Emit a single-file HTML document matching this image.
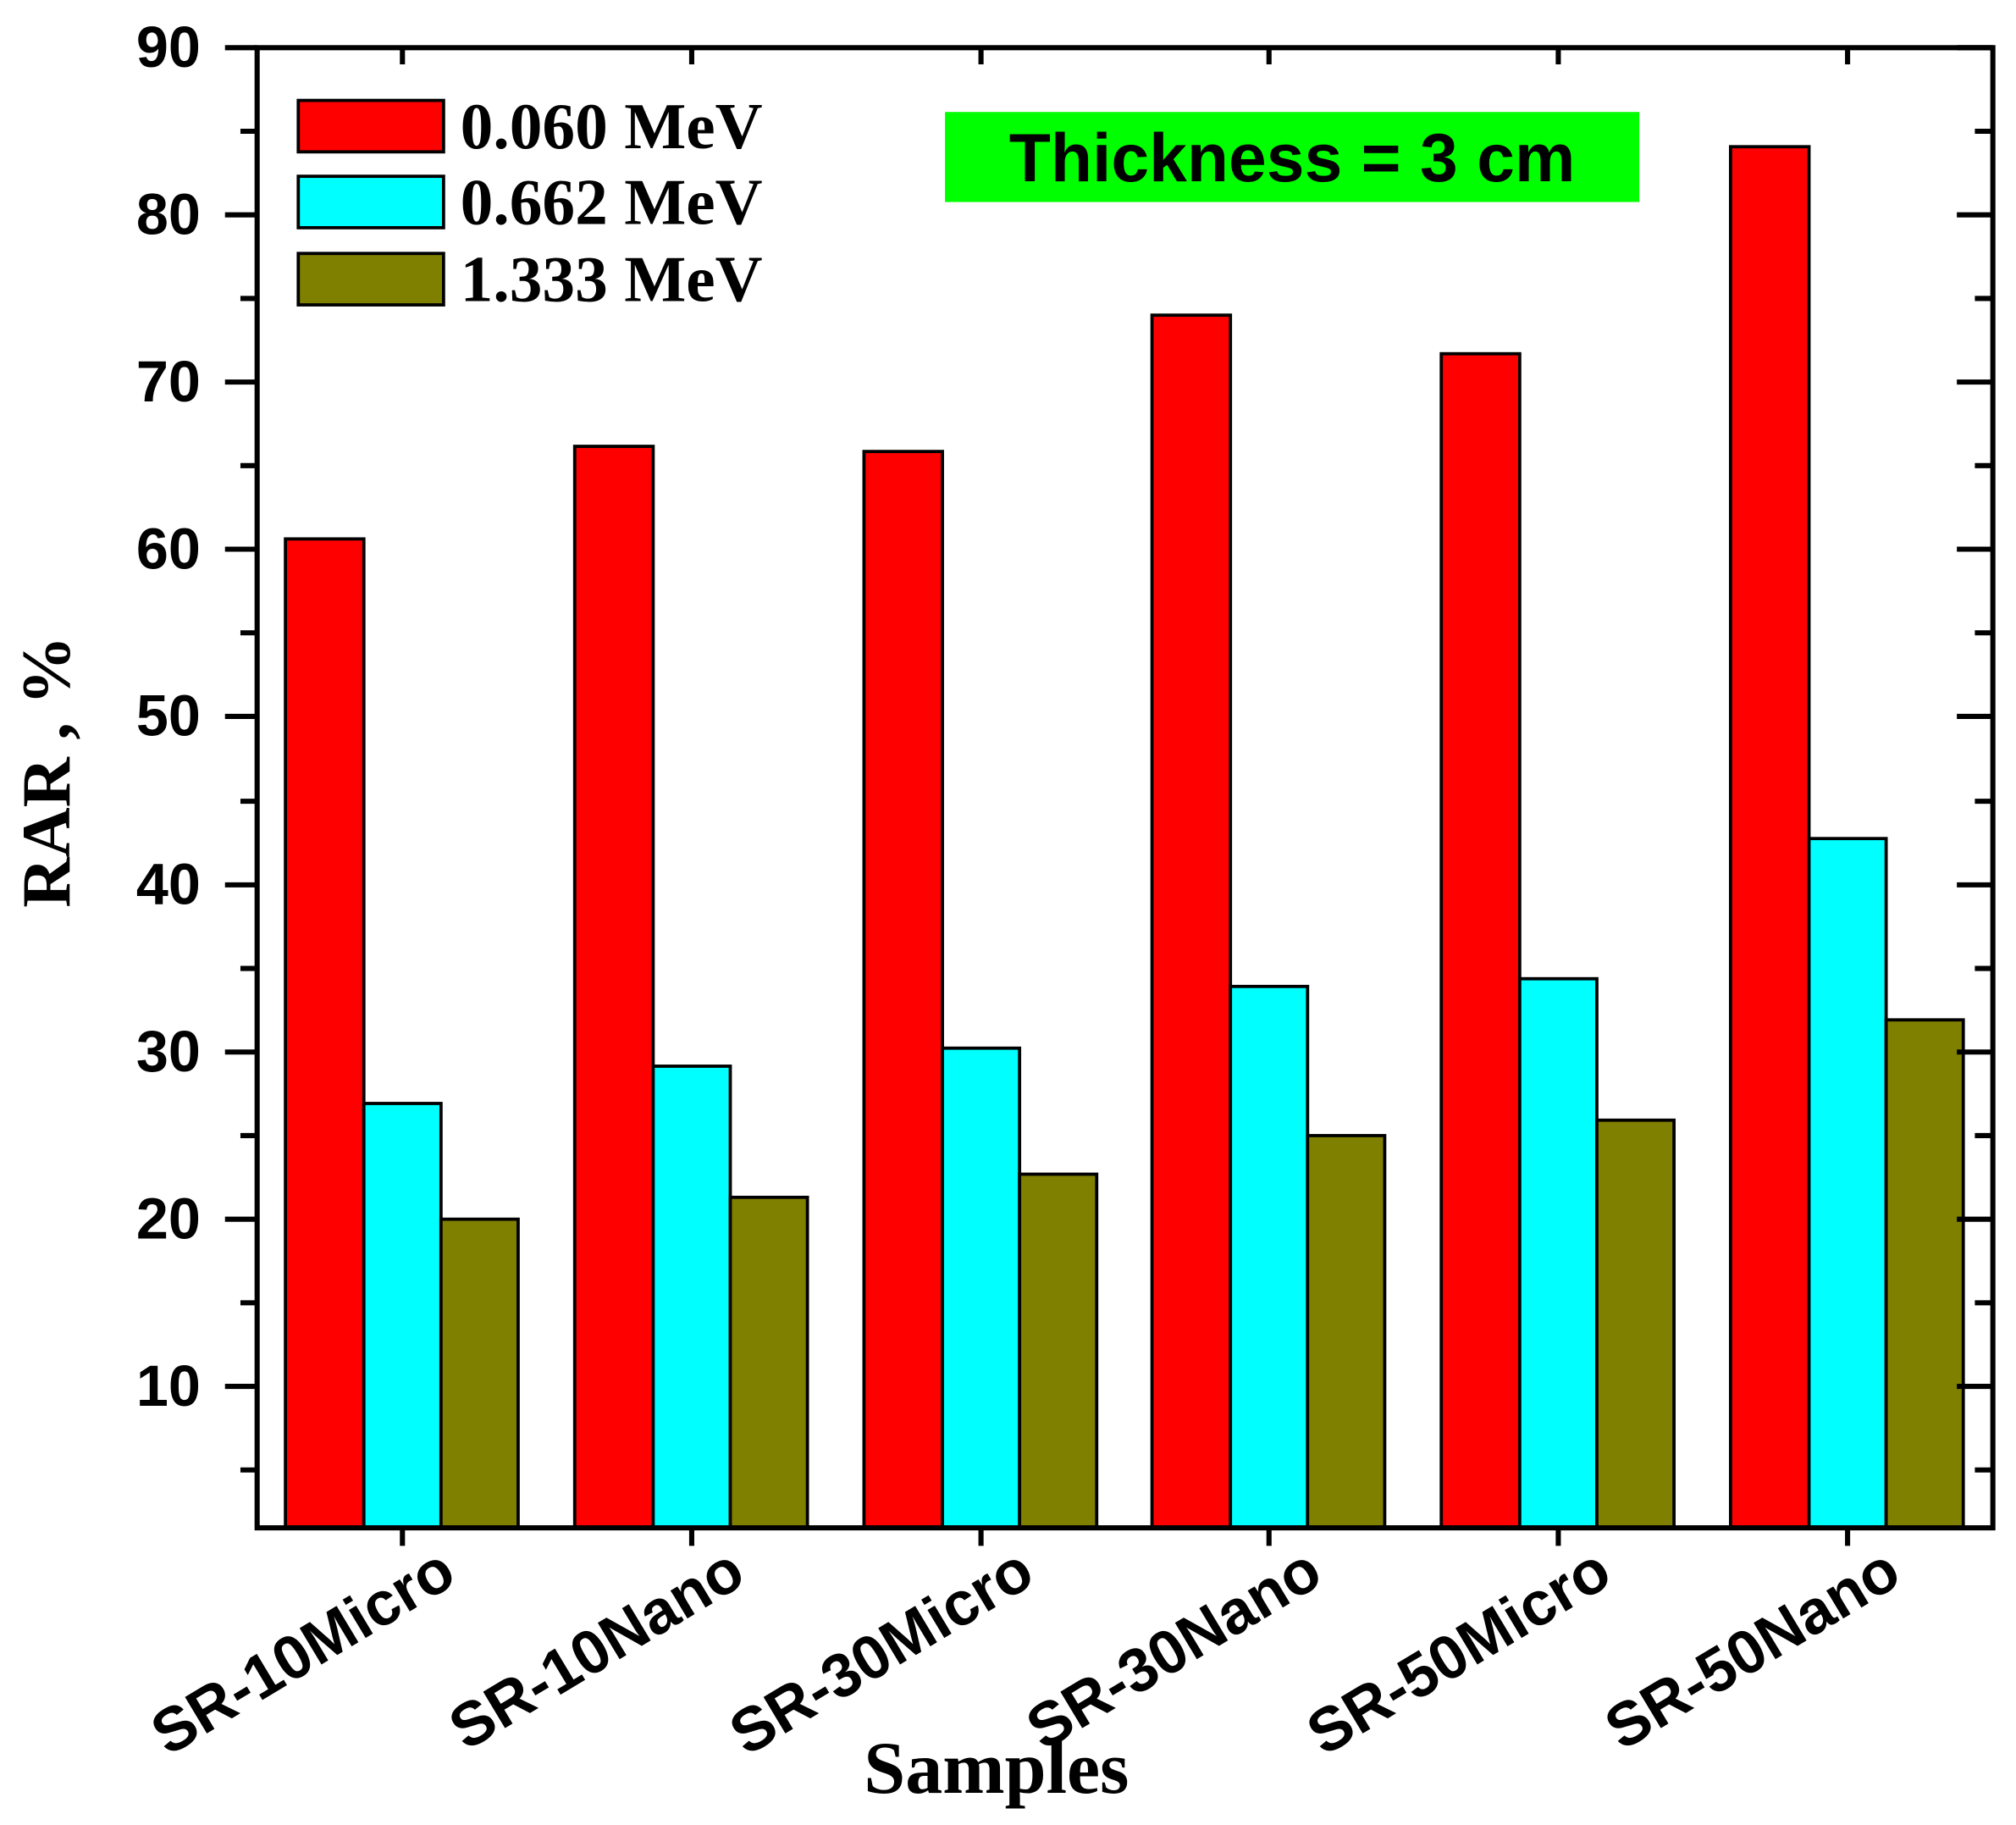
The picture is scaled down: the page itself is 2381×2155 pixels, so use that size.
<!DOCTYPE html>
<html><head><meta charset="utf-8"><style>html,body{margin:0;padding:0;background:#fff}svg{display:block}</style></head>
<body>
<svg width="2381" height="2155" viewBox="0 0 1568 1419" xmlns="http://www.w3.org/2000/svg">
<rect width="1568" height="1419" fill="#fff"/>
<g stroke="#000" stroke-width="2.5">
<rect x="222" y="419" width="61" height="769" fill="#ff0000"/>
<rect x="447" y="347" width="61" height="841" fill="#ff0000"/>
<rect x="672" y="351" width="61" height="837" fill="#ff0000"/>
<rect x="896" y="245" width="61" height="943" fill="#ff0000"/>
<rect x="1121" y="275" width="61" height="913" fill="#ff0000"/>
<rect x="1346" y="114" width="61" height="1074" fill="#ff0000"/>
<rect x="283" y="858" width="60" height="330" fill="#00ffff"/>
<rect x="508" y="829" width="60" height="359" fill="#00ffff"/>
<rect x="733" y="815" width="60" height="373" fill="#00ffff"/>
<rect x="957" y="767" width="60" height="421" fill="#00ffff"/>
<rect x="1182" y="761" width="60" height="427" fill="#00ffff"/>
<rect x="1407" y="652" width="60" height="536" fill="#00ffff"/>
<rect x="343" y="948" width="60" height="240" fill="#808000"/>
<rect x="568" y="931" width="60" height="257" fill="#808000"/>
<rect x="793" y="913" width="60" height="275" fill="#808000"/>
<rect x="1017" y="883" width="60" height="305" fill="#808000"/>
<rect x="1242" y="871" width="60" height="317" fill="#808000"/>
<rect x="1467" y="793" width="60" height="395" fill="#808000"/>
</g>
<rect x="200" y="37" width="1350" height="1151" fill="none" stroke="#000" stroke-width="4"/>
<g stroke="#000" stroke-width="4">
<path d="M175 37H200M175 167H200M175 297H200M175 427H200M175 557H200M175 688H200M175 818H200M175 948H200M175 1078H200"/>
<path d="M1522 37H1550M1522 167H1550M1522 297H1550M1522 427H1550M1522 557H1550M1522 688H1550M1522 818H1550M1522 948H1550M1522 1078H1550"/>
<path d="M187 102H200M187 232H200M187 362H200M187 492H200M187 623H200M187 753H200M187 883H200M187 1013H200M187 1143H200"/>
<path d="M1536 102H1550M1536 232H1550M1536 362H1550M1536 492H1550M1536 623H1550M1536 753H1550M1536 883H1550M1536 1013H1550M1536 1143H1550"/>
<path d="M313 1188V1202M538 1188V1202M763 1188V1202M987 1188V1202M1212 1188V1202M1437 1188V1202"/>
<path d="M313 37V50M538 37V50M763 37V50M987 37V50M1212 37V50M1437 37V50"/>
</g>
<g font-family="Liberation Sans, sans-serif" font-weight="bold" font-size="45" text-anchor="end">
<text x="156" y="52">90</text><text x="156" y="182">80</text><text x="156" y="312">70</text>
<text x="156" y="442">60</text><text x="156" y="572">50</text><text x="156" y="703">40</text>
<text x="156" y="833">30</text><text x="156" y="963">20</text><text x="156" y="1093">10</text>
</g>
<g font-family="Liberation Sans, sans-serif" font-weight="bold" font-size="48" text-anchor="end">
<text transform="translate(357,1230) rotate(-31)">SR-10Micro</text>
<text transform="translate(582,1230) rotate(-31)">SR-10Nano</text>
<text transform="translate(807,1230) rotate(-31)">SR-30Micro</text>
<text transform="translate(1031,1230) rotate(-31)">SR-30Nano</text>
<text transform="translate(1256,1230) rotate(-31)">SR-50Micro</text>
<text transform="translate(1481,1230) rotate(-31)">SR-50Nano</text>
</g>
<text x="775" y="1394" text-anchor="middle" font-family="Liberation Serif, serif" font-weight="bold" font-size="58">Samples</text>
<text transform="translate(54,600) rotate(-90)" text-anchor="middle" font-family="Liberation Serif, serif" font-weight="bold" font-size="54">RAR , %</text>
<g stroke="#000" stroke-width="2.5">
<rect x="232" y="78" width="113" height="40" fill="#ff0000"/>
<rect x="232" y="137" width="113" height="40" fill="#00ffff"/>
<rect x="232" y="197" width="113" height="40" fill="#808000"/>
</g>
<g font-family="Liberation Serif, serif" font-weight="bold" font-size="51">
<text x="358" y="115">0.060 MeV</text>
<text x="358" y="174">0.662 MeV</text>
<text x="358" y="234">1.333 MeV</text>
</g>
<rect x="735" y="87" width="540" height="70" fill="#00ff00"/>
<text x="1005" y="141" text-anchor="middle" font-family="Liberation Sans, sans-serif" font-weight="bold" font-size="53">Thickness = 3 cm</text>
</svg>
</body></html>
